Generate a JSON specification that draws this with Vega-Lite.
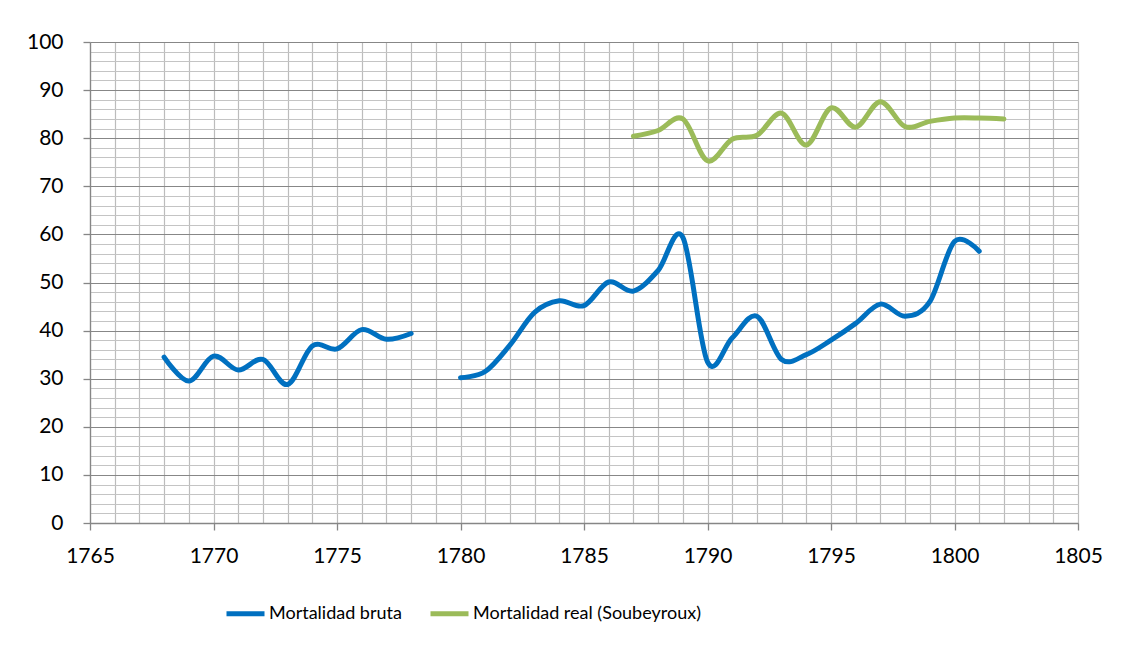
{
  "$schema": "https://vega.github.io/schema/vega-lite/v6.json",
  "autosize": "none",
  "width": 988,
  "height": 481,
  "padding": {"left": 90, "top": 42, "right": 47, "bottom": 125},
  "background": "white",
  "config": {
    "view": {"stroke": null},
    "font": "Lato",
    "axis": {"labelFont": "Lato", "labelFontSize": 21, "labelColor": "#000000", "domainColor": "#868686", "domainWidth": 1.3, "tickWidth": 1.3, "tickSize": 7, "gridWidth": 1.2, "title": null}
  },
  "data": {
    "values": [
      {"year": 1768, "value": 34.5, "series": "Mortalidad bruta", "seg": "a"},
      {"year": 1769, "value": 29.5, "series": "Mortalidad bruta", "seg": "a"},
      {"year": 1770, "value": 34.7, "series": "Mortalidad bruta", "seg": "a"},
      {"year": 1771, "value": 31.8, "series": "Mortalidad bruta", "seg": "a"},
      {"year": 1772, "value": 34.0, "series": "Mortalidad bruta", "seg": "a"},
      {"year": 1773, "value": 28.8, "series": "Mortalidad bruta", "seg": "a"},
      {"year": 1774, "value": 36.8, "series": "Mortalidad bruta", "seg": "a"},
      {"year": 1775, "value": 36.2, "series": "Mortalidad bruta", "seg": "a"},
      {"year": 1776, "value": 40.2, "series": "Mortalidad bruta", "seg": "a"},
      {"year": 1777, "value": 38.2, "series": "Mortalidad bruta", "seg": "a"},
      {"year": 1778, "value": 39.4, "series": "Mortalidad bruta", "seg": "a"},
      {"year": 1780, "value": 30.2, "series": "Mortalidad bruta", "seg": "b"},
      {"year": 1781, "value": 31.5, "series": "Mortalidad bruta", "seg": "b"},
      {"year": 1782, "value": 37.0, "series": "Mortalidad bruta", "seg": "b"},
      {"year": 1783, "value": 43.8, "series": "Mortalidad bruta", "seg": "b"},
      {"year": 1784, "value": 46.2, "series": "Mortalidad bruta", "seg": "b"},
      {"year": 1785, "value": 45.2, "series": "Mortalidad bruta", "seg": "b"},
      {"year": 1786, "value": 50.1, "series": "Mortalidad bruta", "seg": "b"},
      {"year": 1787, "value": 48.2, "series": "Mortalidad bruta", "seg": "b"},
      {"year": 1788, "value": 52.5, "series": "Mortalidad bruta", "seg": "b"},
      {"year": 1789, "value": 59.4, "series": "Mortalidad bruta", "seg": "b"},
      {"year": 1790, "value": 33.5, "series": "Mortalidad bruta", "seg": "b"},
      {"year": 1791, "value": 38.5, "series": "Mortalidad bruta", "seg": "b"},
      {"year": 1792, "value": 43.0, "series": "Mortalidad bruta", "seg": "b"},
      {"year": 1793, "value": 34.0, "series": "Mortalidad bruta", "seg": "b"},
      {"year": 1794, "value": 35.0, "series": "Mortalidad bruta", "seg": "b"},
      {"year": 1795, "value": 38.0, "series": "Mortalidad bruta", "seg": "b"},
      {"year": 1796, "value": 41.5, "series": "Mortalidad bruta", "seg": "b"},
      {"year": 1797, "value": 45.5, "series": "Mortalidad bruta", "seg": "b"},
      {"year": 1798, "value": 43.0, "series": "Mortalidad bruta", "seg": "b"},
      {"year": 1799, "value": 46.0, "series": "Mortalidad bruta", "seg": "b"},
      {"year": 1800, "value": 58.5, "series": "Mortalidad bruta", "seg": "b"},
      {"year": 1801, "value": 56.5, "series": "Mortalidad bruta", "seg": "b"},
      {"year": 1787, "value": 80.4, "series": "Mortalidad real (Soubeyroux)", "seg": "c"},
      {"year": 1788, "value": 81.6, "series": "Mortalidad real (Soubeyroux)", "seg": "c"},
      {"year": 1789, "value": 84.0, "series": "Mortalidad real (Soubeyroux)", "seg": "c"},
      {"year": 1790, "value": 75.3, "series": "Mortalidad real (Soubeyroux)", "seg": "c"},
      {"year": 1791, "value": 79.8, "series": "Mortalidad real (Soubeyroux)", "seg": "c"},
      {"year": 1792, "value": 80.6, "series": "Mortalidad real (Soubeyroux)", "seg": "c"},
      {"year": 1793, "value": 85.2, "series": "Mortalidad real (Soubeyroux)", "seg": "c"},
      {"year": 1794, "value": 78.6, "series": "Mortalidad real (Soubeyroux)", "seg": "c"},
      {"year": 1795, "value": 86.3, "series": "Mortalidad real (Soubeyroux)", "seg": "c"},
      {"year": 1796, "value": 82.3, "series": "Mortalidad real (Soubeyroux)", "seg": "c"},
      {"year": 1797, "value": 87.6, "series": "Mortalidad real (Soubeyroux)", "seg": "c"},
      {"year": 1798, "value": 82.4, "series": "Mortalidad real (Soubeyroux)", "seg": "c"},
      {"year": 1799, "value": 83.5, "series": "Mortalidad real (Soubeyroux)", "seg": "c"},
      {"year": 1800, "value": 84.2, "series": "Mortalidad real (Soubeyroux)", "seg": "c"},
      {"year": 1801, "value": 84.2, "series": "Mortalidad real (Soubeyroux)", "seg": "c"},
      {"year": 1802, "value": 84.0, "series": "Mortalidad real (Soubeyroux)", "seg": "c"}
    ]
  },
  "mark": {"type": "line", "interpolate": "cardinal", "strokeWidth": 5, "strokeCap": "round"},
  "encoding": {
    "x": {
      "field": "year", "type": "quantitative",
      "scale": {"domain": [1765, 1805], "nice": false, "zero": false},
      "axis": {
        "values": [1765,1766,1767,1768,1769,1770,1771,1772,1773,1774,1775,1776,1777,1778,1779,1780,1781,1782,1783,1784,1785,1786,1787,1788,1789,1790,1791,1792,1793,1794,1795,1796,1797,1798,1799,1800,1801,1802,1803,1804,1805],
        "format": "d",
        "labelExpr": "datum.value % 5 === 0 ? datum.label : ''",
        "labelPadding": 15,
        "labelFlush": false,
        "labelOverlap": false,
        "grid": true,
        "gridColor": "#bcbcbc",
        "tickColor": {"condition": {"test": "datum.value % 5 === 0", "value": "#868686"}, "value": "transparent"}
      }
    },
    "y": {
      "field": "value", "type": "quantitative",
      "scale": {"domain": [0, 100], "nice": false},
      "axis": {
        "values": [0,2,4,6,8,10,12,14,16,18,20,22,24,26,28,30,32,34,36,38,40,42,44,46,48,50,52,54,56,58,60,62,64,66,68,70,72,74,76,78,80,82,84,86,88,90,92,94,96,98,100],
        "labelExpr": "datum.value % 10 === 0 ? datum.label : ''",
        "labelPadding": 20,
        "labelFlush": false,
        "labelOverlap": false,
        "grid": true,
        "gridColor": {"condition": {"test": "datum.value % 10 === 0", "value": "#878787"}, "value": "#c4c4c4"},
        "tickColor": {"condition": {"test": "datum.value % 10 === 0", "value": "#868686"}, "value": "transparent"}
      }
    },
    "detail": {"field": "seg"},
    "color": {
      "field": "series", "type": "nominal",
      "scale": {"domain": ["Mortalidad bruta", "Mortalidad real (Soubeyroux)"], "range": ["#0070C0", "#9BBB59"]},
      "legend": {
        "title": null,
        "orient": "none",
        "direction": "horizontal",
        "legendX": 134,
        "legendY": 550,
        "padding": 0,
        "symbolType": "M-1,0H1",
        "symbolSize": 1444,
        "symbolStrokeWidth": 5,
        "labelFont": "Lato",
        "labelFontSize": 18,
        "labelColor": "#000000",
        "labelOffset": 2,
        "columnPadding": 18,
        "labelLimit": 400
      }
    }
  }
}
